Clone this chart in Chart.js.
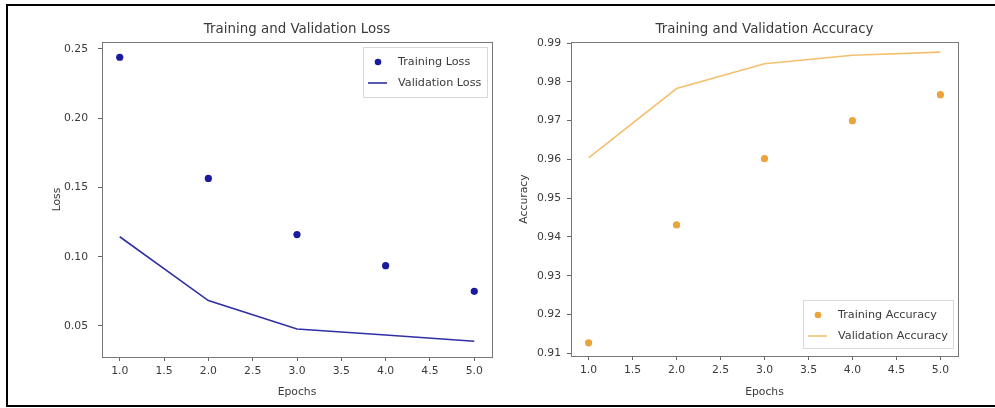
<!DOCTYPE html>
<html lang="en">
<head>
    <meta charset="UTF-8">
    <title>Training and Validation</title>
    <style>
        html, body { margin: 0; background: #fff; overflow: hidden; width: 995px; height: 408px; }
        .rule { position: absolute; background: #000; }
        canvas { position: absolute; top: 0; }
    </style>
</head>
<body>
    <div class="rule" style="left:6px;top:4px;width:989px;height:2px"></div>
    <div class="rule" style="left:6px;top:4px;width:2px;height:403px"></div>
    <div class="rule" style="left:6px;top:405px;width:989px;height:2px"></div>
    <div style="position:absolute;left:0;top:0;width:497px;height:408px"><canvas id="loss"></canvas></div>
    <div style="position:absolute;left:497px;top:0;width:498px;height:408px"><canvas id="acc"></canvas></div>
<script src="https://cdn.jsdelivr.net/npm/chart.js@4/dist/chart.umd.min.js"></script>
<script>
    const epochs = [1, 2, 3, 4, 5];
    const trainLoss = [0.244, 0.1565, 0.116, 0.0935, 0.075];
    const valLoss = [0.1144, 0.0683, 0.0478, 0.0435, 0.039];
    const trainAcc = [0.9127, 0.9431, 0.9602, 0.9700, 0.9767];
    const valAcc = [0.9604, 0.9783, 0.9847, 0.9869, 0.9877];
    const xTicks = [1.0, 1.5, 2.0, 2.5, 3.0, 3.5, 4.0, 4.5, 5.0];
    const lossTicks = [0.05, 0.10, 0.15, 0.20, 0.25];
    const accTicks = [0.91, 0.92, 0.93, 0.94, 0.95, 0.96, 0.97, 0.98, 0.99];

    const FONT = "'DejaVu Sans', sans-serif";
    const TXT = '#3a3a3a';

    const pts = (ys) => epochs.map((x, i) => ({ x: x, y: ys[i] }));

    // title, axes box and legend drawn on top of the chart area
    const decor = {
        id: 'decor',
        afterDraw(chart, args, opts) {
            const ctx = chart.ctx;
            const a = chart.chartArea;
            ctx.save();
            ctx.strokeStyle = '#777';
            ctx.lineWidth = 1;
            ctx.strokeRect(a.left + 0.5, a.top + 0.5, a.right - a.left, a.bottom - a.top);
            ctx.fillStyle = TXT;
            ctx.font = '13.4px ' + FONT;
            ctx.textAlign = 'center';
            ctx.textBaseline = 'middle';
            ctx.fillText(opts.title, (a.left + a.right) / 2, 30);

            const w = opts.w, h = opts.h;
            const bx = a.right - 5 - w;
            const by = opts.bottom ? a.bottom - opts.bottom - h : a.top + 5;
            ctx.fillStyle = 'rgba(255,255,255,0.85)';
            ctx.strokeStyle = '#d8d8d8';
            ctx.fillRect(bx, by, w, h);
            ctx.strokeRect(bx + 0.5, by + 0.5, w, h);
            ctx.font = '11.2px ' + FONT;
            ctx.textAlign = 'left';
            chart.data.datasets.forEach((ds, i) => {
                const cy = by + 15 + i * 21;
                if (ds.showLine) {
                    ctx.strokeStyle = ds.borderColor;
                    ctx.lineWidth = ds.borderWidth;
                    ctx.beginPath();
                    ctx.moveTo(bx + 5, cy);
                    ctx.lineTo(bx + 24, cy);
                    ctx.stroke();
                } else {
                    ctx.fillStyle = ds.backgroundColor;
                    ctx.beginPath();
                    ctx.arc(bx + 15, cy, 3.3, 0, Math.PI * 2);
                    ctx.fill();
                }
                ctx.fillStyle = TXT;
                ctx.fillText(ds.label, bx + 35, cy);
            });
            ctx.restore();
        }
    };

    function makeChart(id, cfg) {
        return new Chart(document.getElementById(id), {
            type: 'scatter',
            data: {
                datasets: [
                    {
                        label: cfg.names[0],
                        data: pts(cfg.train),
                        showLine: false,
                        pointRadius: 3.6,
                        pointBorderWidth: 0,
                        backgroundColor: cfg.dot,
                        borderColor: cfg.dot
                    },
                    {
                        label: cfg.names[1],
                        data: pts(cfg.val),
                        showLine: true,
                        pointRadius: 0,
                        borderWidth: 1.6,
                        borderColor: cfg.line,
                        backgroundColor: cfg.line
                    }
                ]
            },
            options: {
                responsive: true,
                maintainAspectRatio: false,
                animation: false,
                layout: { padding: { left: 0, top: 42, right: cfg.padRight, bottom: 0 } },
                plugins: {
                    legend: { display: false },
                    tooltip: { enabled: false },
                    decor: cfg.decor
                },
                scales: {
                    x: {
                        type: 'linear',
                        min: 0.8,
                        max: 5.2,
                        afterBuildTicks: (s) => { s.ticks = xTicks.map(v => ({ value: v })); },
                        afterFit: (s) => { s.height = cfg.xh; },
                        grid: { drawOnChartArea: false, tickLength: 4, color: '#666' },
                        border: { display: false },
                        ticks: {
                            color: TXT, padding: 4, maxRotation: 0, autoSkip: false,
                            font: { family: FONT, size: 10.8 },
                            callback: (v) => v.toFixed(1)
                        },
                        title: {
                            display: true, text: 'Epochs', color: TXT,
                            font: { family: FONT, size: 10.8 },
                            padding: { top: 0, bottom: 9 }
                        }
                    },
                    y: {
                        min: cfg.ymin,
                        max: cfg.ymax,
                        afterBuildTicks: (s) => { s.ticks = cfg.yTicks.map(v => ({ value: v })); },
                        afterFit: (s) => { s.width = cfg.yw; },
                        grid: { drawOnChartArea: false, tickLength: 4, color: '#666' },
                        border: { display: false },
                        ticks: {
                            color: TXT, padding: cfg.yPad, autoSkip: false,
                            font: { family: FONT, size: 10.8 },
                            callback: (v) => v.toFixed(2)
                        },
                        title: {
                            display: true, text: cfg.yTitle, color: TXT,
                            font: { family: FONT, size: 10.8 },
                            padding: { top: cfg.yTitlePad, bottom: 0 }
                        }
                    }
                }
            },
            plugins: [decor]
        });
    }

    makeChart('loss', {
        names: ['Training Loss', 'Validation Loss'],
        train: trainLoss, val: valLoss,
        dot: '#1a1a9e', line: '#3030a4',
        ymin: 0.0276, ymax: 0.255, yTicks: lossTicks,
        yTitle: 'Loss', yTitlePad: 51, yPad: 10,
        yw: 102, xh: 51, padRight: 5,
        decor: { title: 'Training and Validation Loss', w: 124, h: 50, bottom: 0 }
    });

    makeChart('acc', {
        names: ['Training Accuracy', 'Validation Accuracy'],
        train: trainAcc, val: valAcc,
        dot: '#eba33c', line: '#f4c06e',
        ymin: 0.9093, ymax: 0.9903, yTicks: accTicks,
        yTitle: 'Accuracy', yTitlePad: 21, yPad: 6,
        yw: 74, xh: 52, padRight: 37,
        decor: { title: 'Training and Validation Accuracy', w: 150, h: 48, bottom: 8 }
    });
</script>
</body>
</html>
